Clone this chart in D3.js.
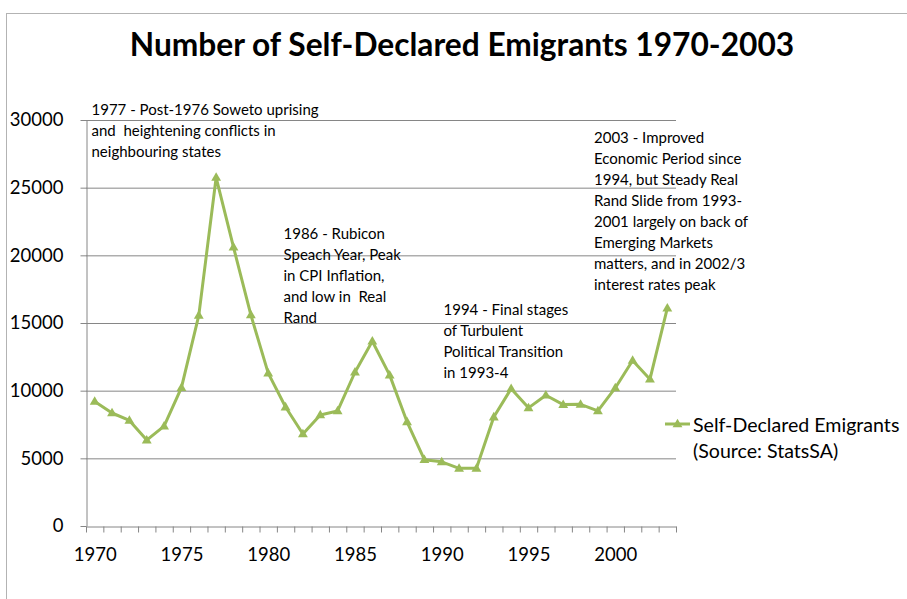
<!DOCTYPE html>
<html>
<head>
<meta charset="utf-8">
<script src="https://cdn.jsdelivr.net/npm/d3@7"></script>
<style>
  body { margin: 0; background: #fff; }
  svg { display: block; font-family: Lato, "Open Sans", sans-serif; }
</style>
</head>
<body>
<svg width="907" height="599"></svg>
<script>
// data
var years = d3.range(1970, 2004);
var emigrants = [9200, 8350, 7800, 6350, 7380, 10220, 15560, 25750, 20600, 15600,
                 11300, 8790, 6800, 8200, 8500, 11360, 13650, 11150, 7700, 4900,
                 4740, 4260, 4260, 8050, 10150, 8730, 9660, 8970, 8990, 8500,
                 10200, 12230, 10850, 16100];
var yTicks = [0, 5000, 10000, 15000, 20000, 25000, 30000];
var xLabels = [1970, 1975, 1980, 1985, 1990, 1995, 2000];
var title = "Number of Self-Declared Emigrants 1970-2003";
var legendLines = ["Self-Declared Emigrants", "(Source: StatsSA)"];

var note1977 = ["1977 - Post-1976 Soweto uprising", "and  heightening conflicts in", "neighbouring states"];
var note1986 = ["1986 - Rubicon", "Speach Year, Peak", "in CPI Inflation,", "and low in  Real", "Rand"];
var note1994 = ["1994 - Final stages", "of Turbulent", "Political Transition", "in 1993-4"];
var note2003 = ["2003 - Improved", "Economic Period since", "1994, but Steady Real", "Rand Slide from 1993-",
                "2001 largely on back of", "Emerging Markets", "matters, and in 2002/3", "interest rates peak"];

var green = "#9bbb59", grey = "#868686";

var svg = d3.select("svg");

// chart frame
svg.append("rect")
    .attr("x", 6.5).attr("y", 13.5)
    .attr("width", 950).attr("height", 650)
    .attr("fill", "none")
    .attr("stroke", "#b3b3b3");

svg.append("text")
    .attr("x", 462).attr("y", 56)
    .attr("text-anchor", "middle")
    .style("font-weight", "bold")
    .style("font-size", "31.7px")
    .text(title);

var x = d3.scaleLinear().domain([1969.5, 2003.5]).range([86, 676]);
var y = d3.scaleLinear().domain([0, 30000]).range([526, 120]);

// gridlines
svg.append("g")
    .attr("transform", "translate(86,0)")
    .call(d3.axisLeft(y).tickValues(yTicks.slice(1)).tickSize(-590).tickFormat(""))
    .call(function(g) { g.select(".domain").remove(); })
    .selectAll("line").attr("stroke", grey);

// y axis
var yAxis = svg.append("g")
    .attr("transform", "translate(86.5,0)")
    .call(d3.axisLeft(y).tickValues(yTicks).tickSizeInner(6).tickSizeOuter(0).tickPadding(17)
        .tickFormat(d3.format("d")));
yAxis.attr("font-family", null).attr("font-size", null);
yAxis.select(".domain").attr("stroke", grey);
yAxis.selectAll("line").attr("stroke", grey);
yAxis.selectAll("text").style("font-size", "18.5px").attr("fill", "#000");

// x axis: ticks between categories, labels every 5 years
var xAxis = svg.append("g")
    .attr("transform", "translate(0,526.5)")
    .call(d3.axisBottom(x).tickValues(d3.range(1969.5, 2004, 1)).tickSizeInner(6).tickSizeOuter(0).tickFormat(""));
xAxis.select(".domain").attr("stroke", grey);
xAxis.selectAll("line").attr("stroke", grey);

var xLab = svg.append("g")
    .attr("transform", "translate(0,526.5)")
    .call(d3.axisBottom(x).tickValues(xLabels).tickSize(0).tickPadding(21).tickFormat(d3.format("d")));
xLab.attr("font-family", null).attr("font-size", null);
xLab.select(".domain").remove();
xLab.selectAll("text").style("font-size", "18.5px").attr("fill", "#000");

// series
var pts = years.map(function(yr, i) { return {year: yr, value: emigrants[i]}; });

var line = d3.line()
    .x(function(d) { return x(d.year); })
    .y(function(d) { return y(d.value); });

svg.append("path")
    .datum(pts)
    .attr("fill", "none")
    .attr("stroke", green)
    .attr("stroke-width", 3)
    .attr("stroke-linejoin", "round")
    .attr("d", line);

var tri = d3.symbol().type(d3.symbolTriangle).size(42);

svg.selectAll(".marker")
    .data(pts)
    .enter().append("path")
    .attr("class", "marker")
    .attr("transform", function(d) { return "translate(" + x(d.year) + "," + (y(d.value) + 0.5) + ")"; })
    .attr("d", tri)
    .attr("fill", green);

// annotations
function note(lines, left, top) {
    var t = svg.append("text")
        .attr("xml:space", "preserve")
        .style("font-size", "15px")
        .attr("fill", "#000");
    t.selectAll("tspan")
        .data(lines)
        .enter().append("tspan")
        .attr("x", left)
        .attr("y", function(d, i) { return top + i * 21; })
        .attr("dy", "0.35em")
        .text(function(d) { return d; });
}
note(note1977, 91.5, 110);
note(note1986, 283.5, 234);
note(note1994, 443.5, 310);
note(note2003, 594, 138);

// legend
var lg = svg.append("g").attr("transform", "translate(665,424)");
lg.append("line")
    .attr("x1", 0).attr("x2", 25)
    .attr("stroke", green).attr("stroke-width", 3);
lg.append("path")
    .attr("transform", "translate(12.5,0.5)")
    .attr("d", tri)
    .attr("fill", green);
lg.selectAll("text")
    .data(legendLines)
    .enter().append("text")
    .attr("x", 28)
    .attr("y", function(d, i) { return 8 + i * 26; })
    .style("font-size", "19.6px")
    .attr("fill", "#000")
    .text(function(d) { return d; });
</script>
</body>
</html>
